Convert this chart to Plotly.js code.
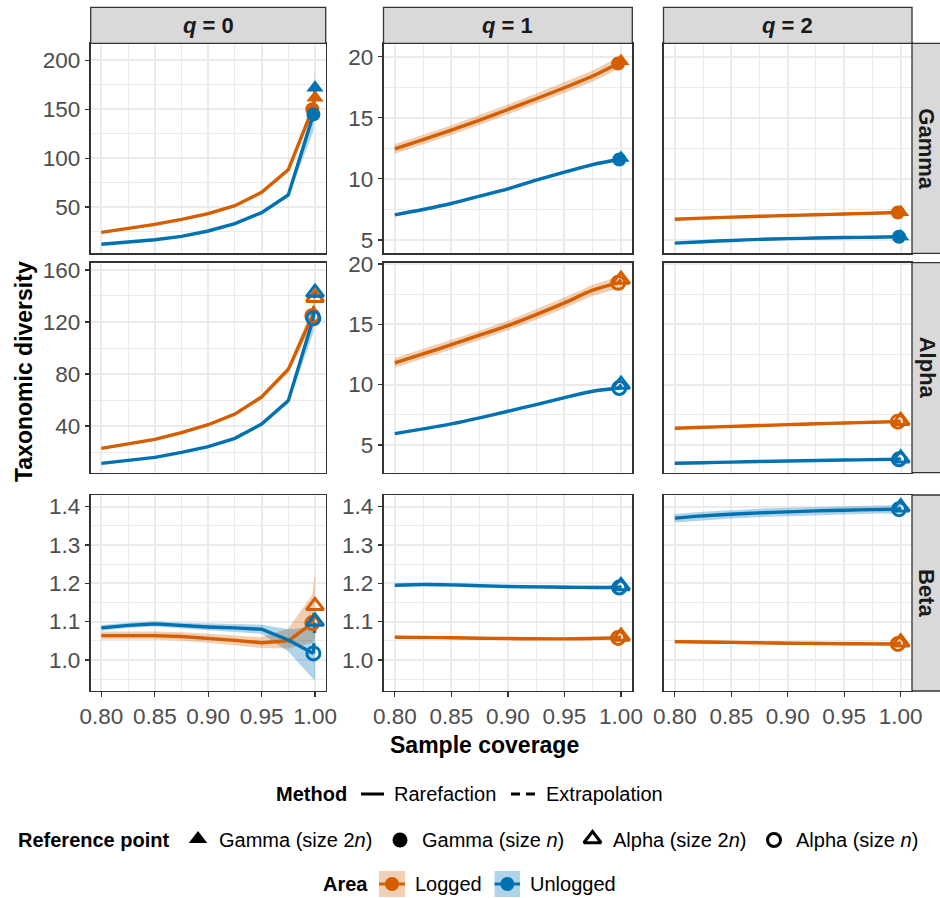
<!DOCTYPE html>
<html><head><meta charset="utf-8">
<script src="https://cdn.plot.ly/plotly-3.0.1.min.js"></script>
<style>html,body{margin:0;padding:0;background:#fff}</style>
</head><body><div id="chart" style="width:940px;height:898px"></div>
<script>
// ---------------- DATA ----------------
const coverage = [0.800, 0.825, 0.850, 0.875, 0.900, 0.925, 0.950, 0.975];
const areas = ['Logged', 'Unlogged'];
const orderLabels = ['0', '1', '2'];
const diversityTypes = ['Gamma', 'Alpha', 'Beta'];
const covSizeN  = [0.9975, 0.9985];   // coverage of the reference sample (size n), Logged / Unlogged
const covSize2N = [1.0000, 1.0000];   // coverage at double reference size (size 2n)

// each row: estimates at the coverage grid, then size n, then size 2n ; [Logged, Unlogged]
const gammaQ0_est = [[24.1,28.0,32.3,37.4,43.2,51.4,65.0,88.2,150.0,161.8],[11.9,14.0,16.6,20.0,25.5,33.0,44.3,62.3,144.8,172.0]];
const gammaQ0_lo  = [[23.0,26.9,31.2,36.2,42.0,50.0,63.4,86.0,145.0,150.0],[11.2,13.3,15.8,19.2,24.5,31.9,42.9,60.0,128.0,150.0]];
const gammaQ0_hi  = [[25.2,29.1,33.4,38.6,44.4,52.8,66.6,90.4,155.0,174.0],[12.6,14.7,17.4,20.8,26.5,34.1,45.7,64.6,152.0,195.0]];

const gammaQ1_est = [[12.46,13.22,13.99,14.81,15.68,16.56,17.46,18.42,19.45,19.64],[7.05,7.49,7.98,8.58,9.18,9.89,10.55,11.17,11.58,11.70]];
const gammaQ1_lo  = [[12.06,12.82,13.59,14.41,15.28,16.14,17.02,17.96,18.95,19.10],[6.93,7.37,7.86,8.46,9.05,9.76,10.41,11.02,11.41,11.50]];
const gammaQ1_hi  = [[12.86,13.62,14.39,15.21,16.08,16.98,17.90,18.88,19.95,20.18],[7.17,7.61,8.10,8.70,9.31,10.02,10.69,11.32,11.75,11.90]];

const gammaQ2_est = [[6.69,6.78,6.86,6.93,7.00,7.06,7.12,7.18,7.24,7.26],[4.73,4.85,4.95,5.04,5.10,5.15,5.19,5.22,5.25,5.28]];
const gammaQ2_lo  = [[6.59,6.68,6.76,6.83,6.90,6.96,7.01,7.07,7.12,7.13],[4.66,4.78,4.88,4.97,5.03,5.08,5.12,5.14,5.17,5.19]];
const gammaQ2_hi  = [[6.79,6.88,6.96,7.03,7.10,7.16,7.23,7.29,7.36,7.39],[4.80,4.92,5.02,5.11,5.17,5.22,5.26,5.30,5.33,5.37]];

const alphaQ0_est = [[22.8,26.2,29.7,34.9,41.0,49.2,62.3,83.6,124.6,138.7],[11.3,13.4,15.9,19.7,24.1,30.5,41.5,59.5,122.8,142.6]];
const alphaQ0_lo  = [[21.8,25.2,28.6,33.7,39.8,47.8,60.6,81.0,118.0,128.0],[10.6,12.7,15.1,18.9,23.1,29.4,40.1,57.2,112.0,128.0]];
const alphaQ0_hi  = [[23.8,27.2,30.8,36.1,42.2,50.6,64.0,86.2,131.0,150.0],[12.0,14.1,16.7,20.5,25.1,31.6,42.9,61.8,128.0,156.0]];

const alphaQ1_est = [[11.80,12.54,13.31,14.09,14.89,15.80,16.77,17.82,18.43,18.70],[5.94,6.33,6.74,7.24,7.79,8.34,8.92,9.45,9.72,10.00]];
const alphaQ1_lo  = [[11.40,12.14,12.91,13.69,14.49,15.38,16.33,17.36,17.95,18.15],[5.84,6.23,6.64,7.14,7.68,8.23,8.80,9.32,9.57,9.82]];
const alphaQ1_hi  = [[12.20,12.94,13.71,14.49,15.29,16.22,17.21,18.28,18.91,19.25],[6.04,6.43,6.84,7.34,7.90,8.45,9.04,9.58,9.87,10.18]];

const alphaQ2_est = [[6.38,6.46,6.54,6.61,6.68,6.75,6.82,6.88,6.93,7.00],[3.48,3.53,3.58,3.63,3.67,3.71,3.75,3.78,3.81,3.89]];
const alphaQ2_lo  = [[6.29,6.37,6.45,6.52,6.59,6.66,6.72,6.78,6.82,6.88],[3.43,3.48,3.53,3.58,3.62,3.66,3.70,3.73,3.75,3.82]];
const alphaQ2_hi  = [[6.47,6.55,6.63,6.70,6.77,6.84,6.92,6.98,7.04,7.12],[3.53,3.58,3.63,3.68,3.72,3.76,3.80,3.83,3.87,3.96]];

const betaQ0_est = [[1.0635,1.0635,1.0635,1.0610,1.0565,1.0510,1.0450,1.0500,1.0960,1.1410],[1.0835,1.0900,1.0940,1.0896,1.0860,1.0835,1.0800,1.0520,1.0170,1.1000]];
const betaQ0_lo  = [[1.053,1.053,1.053,1.050,1.045,1.038,1.031,1.030,1.045,1.060],[1.076,1.083,1.087,1.082,1.077,1.073,1.068,1.022,0.950,0.945]];
const betaQ0_hi  = [[1.074,1.074,1.074,1.072,1.068,1.064,1.059,1.082,1.170,1.230],[1.091,1.097,1.101,1.097,1.095,1.094,1.092,1.080,1.085,1.130]];

const betaQ1_est = [[1.0591,1.0585,1.0578,1.0567,1.0557,1.0552,1.0548,1.0560,1.0574,1.0610],[1.1948,1.1965,1.1957,1.1935,1.1913,1.1905,1.1896,1.1890,1.1887,1.1930]];
const betaQ1_lo  = [[1.0551,1.0545,1.0538,1.0527,1.0517,1.0512,1.0508,1.0518,1.0530,1.0560],[1.1908,1.1925,1.1917,1.1895,1.1873,1.1865,1.1856,1.1848,1.1843,1.1880]];
const betaQ1_hi  = [[1.0631,1.0625,1.0618,1.0607,1.0597,1.0592,1.0588,1.0602,1.0618,1.0660],[1.1988,1.2005,1.1997,1.1975,1.1953,1.1945,1.1936,1.1932,1.1931,1.1980]];

const betaQ2_est = [[1.0478,1.0468,1.0457,1.0446,1.0435,1.0428,1.0422,1.0419,1.0417,1.0460],[1.3696,1.3755,1.3800,1.3833,1.3860,1.3885,1.3904,1.3918,1.3930,1.3980]];
const betaQ2_lo  = [[1.0428,1.0418,1.0407,1.0396,1.0385,1.0378,1.0372,1.0368,1.0365,1.0400],[1.3586,1.3645,1.3690,1.3723,1.3750,1.3775,1.3794,1.3808,1.3818,1.3860]];
const betaQ2_hi  = [[1.0528,1.0518,1.0507,1.0496,1.0485,1.0478,1.0472,1.0470,1.0469,1.0520],[1.3806,1.3865,1.3910,1.3943,1.3970,1.3995,1.4014,1.4028,1.4042,1.4100]];

// ---------------- STYLE ----------------
const FONT = 'Liberation Sans, Arial, sans-serif';
const areaColors = ['#D55E00', '#0072B2'];
const areaFills = ['rgba(213,94,0,0.30)', 'rgba(0,114,178,0.30)'];
const W = 940, H = 898;
const px = x => x / W;
const py = y => 1 - y / H;
const colX = [[90.7, 325.7], [383.5, 632.3], [663.5, 912.0]];
const rowY = [[43.3, 253.3], [262.7, 472.7], [495.0, 691.0]];
const yAxisSpec = [
  [{range: [2.7, 217.5], dtick: 50}, {range: [3.9, 21.1], dtick: 5}, {range: [3.9, 21.1], dtick: 5}],
  [{range: [4.1, 165.6], dtick: 40}, {range: [2.7, 20.1], dtick: 5}, {range: [2.7, 20.1], dtick: 5}],
  [{range: [0.919, 1.430], dtick: 0.1, fmt: '.1f'}, {range: [0.919, 1.430], dtick: 0.1, fmt: '.1f'}, {range: [0.919, 1.430], dtick: 0.1, fmt: '.1f'}]
];
const panelData = [
  [[gammaQ0_est, gammaQ0_lo, gammaQ0_hi], [gammaQ1_est, gammaQ1_lo, gammaQ1_hi], [gammaQ2_est, gammaQ2_lo, gammaQ2_hi]],
  [[alphaQ0_est, alphaQ0_lo, alphaQ0_hi], [alphaQ1_est, alphaQ1_lo, alphaQ1_hi], [alphaQ2_est, alphaQ2_lo, alphaQ2_hi]],
  [[betaQ0_est, betaQ0_lo, betaQ0_hi], [betaQ1_est, betaQ1_lo, betaQ1_hi], [betaQ2_est, betaQ2_lo, betaQ2_hi]]
];
const LW = 3.4;
const TICKFONT = {family: FONT, size: 22.5, color: '#4D4D4D'};

const layout = {
  width: W, height: H, margin: {l: 0, r: 0, t: 0, b: 0},
  paper_bgcolor: '#FFFFFF', plot_bgcolor: 'rgba(0,0,0,0)',
  font: {family: FONT, color: '#1A1A1A'},
  showlegend: false, shapes: [], annotations: []
};
const ribbons = [], lines = [], points = [];
const nG = coverage.length;

for (let r = 0; r < 3; r++) {
  for (let c = 0; c < 3; c++) {
    const k = r * 3 + c + 1;
    const sfx = k === 1 ? '' : String(k);
    const ys = yAxisSpec[r][c];
    layout['xaxis' + sfx] = {
      domain: [px(colX[c][0]), px(colX[c][1])], anchor: 'y' + sfx,
      range: [0.79, 1.01], tick0: 0.8, dtick: 0.05, tickformat: '.2f',
      showticklabels: r === 2, ticks: r === 2 ? 'outside' : '', ticklen: 4.5, tickwidth: 1.3, tickcolor: '#333333',
      tickfont: TICKFONT,
      showgrid: true, gridcolor: '#EBEBEB', gridwidth: 2,
      minor: {dtick: 0.025, tick0: 0.8, showgrid: true, gridcolor: '#EBEBEB', gridwidth: 1, ticks: ''},
      showline: true, mirror: true, linecolor: '#333333', linewidth: 1.3, zeroline: false, fixedrange: true
    };
    layout['yaxis' + sfx] = {
      domain: [py(rowY[r][1]), py(rowY[r][0])], anchor: 'x' + sfx,
      range: ys.range, tick0: 0, dtick: ys.dtick, tickformat: ys.fmt || '',
      showticklabels: c < 2, ticks: (c < 2) ? 'outside' : '', ticklen: 4.5, tickwidth: 1.3, tickcolor: '#333333',
      tickfont: TICKFONT,
      showgrid: true, gridcolor: '#EBEBEB', gridwidth: 2,
      minor: {dtick: ys.dtick / 2, tick0: 0, showgrid: true, gridcolor: '#EBEBEB', gridwidth: 1, ticks: ''},
      showline: true, mirror: true, linecolor: '#333333', linewidth: 1.3, zeroline: false, fixedrange: true
    };
    const xa = 'x' + sfx, ya = 'y' + sfx;
    const [est, lo, hi] = panelData[r][c];
    const filled = r === 0;
    const shape = c === 0 ? 'linear' : 'spline';
    for (let a = 0; a < 2; a++) {
      const xr = coverage.concat([covSizeN[a], covSize2N[a]]);
      ribbons.push({
        type: 'scatter', mode: 'lines', xaxis: xa, yaxis: ya,
        x: xr.concat(xr.slice().reverse()),
        y: lo[a].concat(hi[a].slice().reverse()),
        fill: 'toself', fillcolor: areaFills[a], line: {width: 0}, hoverinfo: 'skip', name: areas[a]
      });
      lines.push({
        type: 'scatter', mode: 'lines', xaxis: xa, yaxis: ya,
        x: coverage.concat([covSizeN[a]]), y: est[a].slice(0, nG + 1),
        line: {color: areaColors[a], width: LW, shape: shape, smoothing: 0.8}, name: areas[a] + ' Rarefaction'
      });
      lines.push({
        type: 'scatter', mode: 'lines', xaxis: xa, yaxis: ya,
        x: [covSizeN[a], covSize2N[a]], y: [est[a][nG], est[a][nG + 1]],
        line: {color: areaColors[a], width: LW, dash: 'dash'}, name: areas[a] + ' Extrapolation'
      });
      points.push({
        type: 'scatter', mode: 'markers', xaxis: xa, yaxis: ya, cliponaxis: false,
        x: [covSize2N[a]], y: [est[a][nG + 1]],
        marker: {symbol: filled ? 'triangle-up' : 'triangle-up-open', size: 15, color: areaColors[a], line: {width: filled ? 0 : 3, color: areaColors[a]}}
      });
      points.push({
        type: 'scatter', mode: 'markers', xaxis: xa, yaxis: ya, cliponaxis: false,
        x: [covSizeN[a]], y: [est[a][nG]],
        marker: {symbol: filled ? 'circle' : 'circle-open', size: filled ? 14 : 13, color: areaColors[a], line: {width: filled ? 0 : 3, color: areaColors[a]}}
      });
    }
  }
}

// strips
for (let c = 0; c < 3; c++) {
  layout.shapes.push({type: 'rect', xref: 'paper', yref: 'paper', x0: px(colX[c][0]), x1: px(colX[c][1]), y0: py(43.3), y1: py(7.3),
    fillcolor: '#D9D9D9', line: {color: '#333333', width: 1.3}});
  layout.annotations.push({xref: 'paper', yref: 'paper', x: px((colX[c][0] + colX[c][1]) / 2), y: py(25.3),
    xanchor: 'center', yanchor: 'middle', showarrow: false,
    text: '<b><i>q</i> = ' + orderLabels[c] + '</b>', font: {family: FONT, size: 22, color: '#1A1A1A'}});
}
for (let r = 0; r < 3; r++) {
  layout.shapes.push({type: 'rect', xref: 'paper', yref: 'paper', x0: px(912), x1: px(941), y0: py(rowY[r][1]), y1: py(rowY[r][0]),
    fillcolor: '#D9D9D9', line: {color: '#333333', width: 1.3}});
  layout.annotations.push({xref: 'paper', yref: 'paper', x: px(927), y: py((rowY[r][0] + rowY[r][1]) / 2),
    xanchor: 'center', yanchor: 'middle', showarrow: false, textangle: 90,
    text: '<b>' + diversityTypes[r] + '</b>', font: {family: FONT, size: 22, color: '#1A1A1A'}});
}
// axis titles
layout.annotations.push({xref: 'paper', yref: 'paper', x: px(484.5), y: py(745), xanchor: 'center', yanchor: 'middle', showarrow: false,
  text: '<b>Sample coverage</b>', font: {family: FONT, size: 23, color: '#000000'}});
layout.annotations.push({xref: 'paper', yref: 'paper', x: px(24), y: py(372), xanchor: 'center', yanchor: 'middle', showarrow: false, textangle: -90,
  text: '<b>Taxonomic diversity</b>', font: {family: FONT, size: 23, color: '#000000'}});

// ---------------- LEGEND (drawn manually) ----------------
const LF = {family: FONT, size: 20, color: '#000000'};
function legText(x, y, t) {
  layout.annotations.push({xref: 'paper', yref: 'paper', x: px(x), y: py(y), xanchor: 'left', yanchor: 'middle', showarrow: false, text: t, font: LF, borderpad: 0});
}
legText(275, 794, '<b>Method</b>');
layout.shapes.push({type: 'line', xref: 'paper', yref: 'paper', x0: px(361), x1: px(384), y0: py(794), y1: py(794), line: {color: '#000', width: 3}});
legText(393, 794, 'Rarefaction');
layout.shapes.push({type: 'line', xref: 'paper', yref: 'paper', x0: px(511), x1: px(520), y0: py(794), y1: py(794), line: {color: '#000', width: 3}});
layout.shapes.push({type: 'line', xref: 'paper', yref: 'paper', x0: px(526), x1: px(535), y0: py(794), y1: py(794), line: {color: '#000', width: 3}});
legText(545, 794, 'Extrapolation');
legText(17, 840, '<b>Reference point</b>');
legText(218, 840, 'Gamma (size 2<i>n</i>)');
legText(421, 840, 'Gamma (size <i>n</i>)');
legText(612, 840, 'Alpha (size 2<i>n</i>)');
legText(795, 840, 'Alpha (size <i>n</i>)');
legText(322, 884, '<b>Area</b>');
legText(414, 884, 'Logged');
legText(529, 884, 'Unlogged');
const keyBoxes = [[379, 405], [494.5, 520]];
for (let a = 0; a < 2; a++) {
  layout.shapes.push({type: 'rect', xref: 'paper', yref: 'paper', x0: px(keyBoxes[a][0]), x1: px(keyBoxes[a][1]), y0: py(897), y1: py(871),
    fillcolor: areaFills[a], line: {width: 0}});
  layout.shapes.push({type: 'line', xref: 'paper', yref: 'paper', x0: px(keyBoxes[a][0]), x1: px(keyBoxes[a][1]), y0: py(884), y1: py(884),
    line: {color: areaColors[a], width: 3}});
}
layout.xaxis10 = {domain: [0, 1], range: [0, W], visible: false, fixedrange: true, anchor: 'y10', showgrid: false, zeroline: false};
layout.yaxis10 = {domain: [0, 1], range: [H, 0], visible: false, fixedrange: true, anchor: 'x10', showgrid: false, zeroline: false};
const legendKeys = {
  type: 'scatter', mode: 'markers', xaxis: 'x10', yaxis: 'y10', hoverinfo: 'skip', cliponaxis: false,
  x: [198, 400, 592.5, 774, 392, 507.3],
  y: [839, 840, 839, 840, 884, 884],
  marker: {
    symbol: ['triangle-up', 'circle', 'triangle-up-open', 'circle-open', 'circle', 'circle'],
    size: [16, 15, 15, 13, 14, 14],
    color: ['#000000', '#000000', '#000000', '#000000', areaColors[0], areaColors[1]],
    opacity: 1,
    line: {width: [0, 0, 3, 3, 0, 0], color: ['#000000', '#000000', '#000000', '#000000', areaColors[0], areaColors[1]]}
  }
};

Plotly.newPlot('chart', ribbons.concat(lines, points, [legendKeys]), layout, {staticPlot: true, displayModeBar: false});
</script></body></html>
